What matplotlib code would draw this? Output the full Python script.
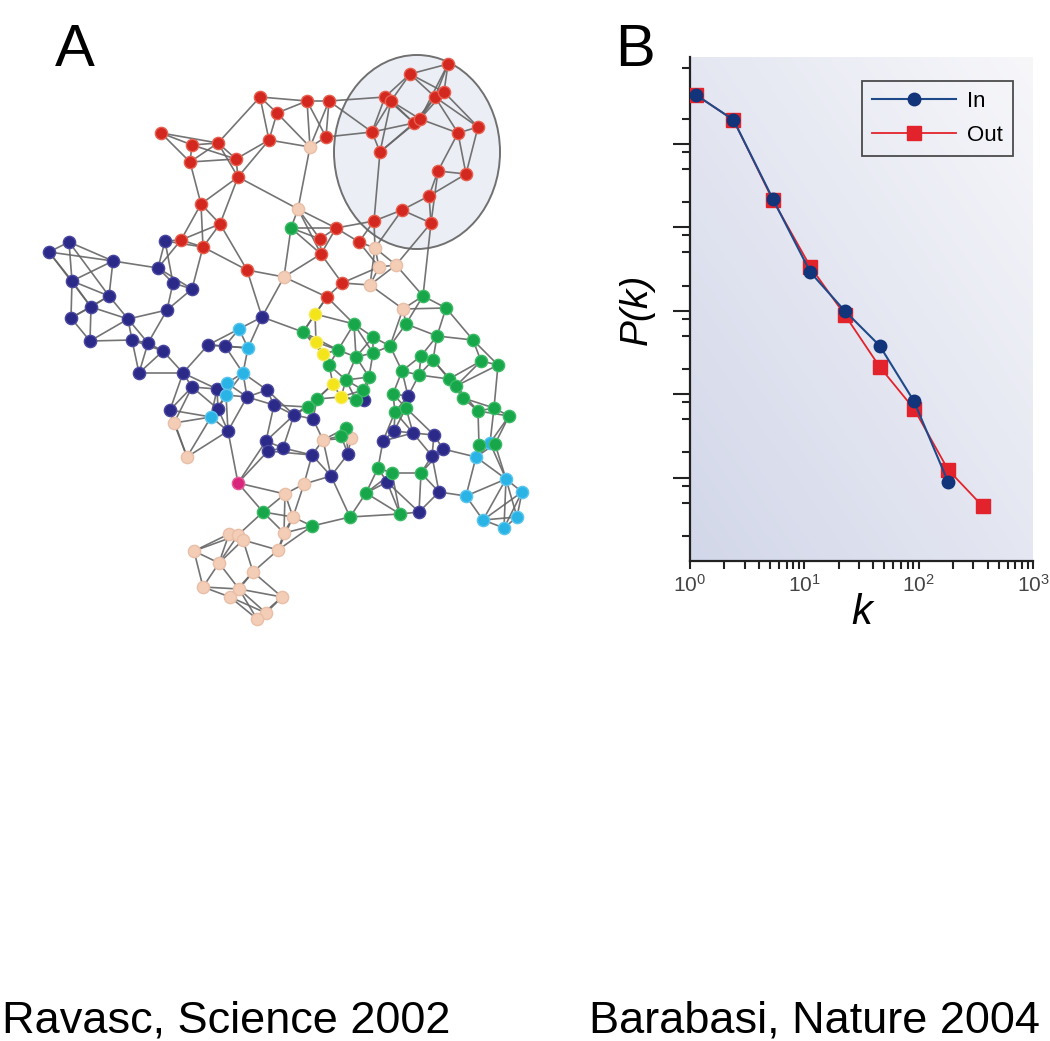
import numpy as np
import matplotlib
matplotlib.use("Agg")
import matplotlib.pyplot as plt
from matplotlib.patches import Ellipse
from matplotlib.ticker import FixedLocator, NullFormatter, LogFormatterMathtext

plt.rcParams['font.family'] = ['Liberation Sans', 'DejaVu Sans']

# ---- panel A: network nodes (picture pixel coords) ----
red_nodes = [(260, 97), (277, 113), (269, 140), (161, 133), (192, 145), (218, 143), (190, 162),
             (236, 159), (238, 177), (201, 204), (220, 224), (181, 240), (203, 247), (247, 270),
             (307, 101), (329, 101), (326, 137), (410, 74), (448, 64), (385, 97), (391, 101),
             (435, 97), (444, 92), (414, 123), (420, 119), (372, 132), (380, 152), (458, 133),
             (478, 127), (438, 171), (466, 174), (429, 196), (402, 210), (374, 221), (431, 223),
             (336, 228), (320, 239), (321, 254), (359, 242), (342, 283), (327, 297)]
peach_nodes = [(310, 147), (298, 209), (375, 248), (379, 267), (396, 265), (370, 285), (284, 277),
               (403, 309), (174, 423), (187, 457), (323, 440), (351, 438), (304, 484), (285, 494),
               (293, 517), (284, 533), (278, 550), (229, 534), (238, 535), (243, 540), (194, 551),
               (219, 563), (253, 572), (203, 587), (239, 589), (230, 597), (282, 597), (266, 613),
               (257, 619)]
blue_nodes = [(49, 252), (69, 242), (113, 261), (165, 241), (158, 268), (173, 283), (192, 289),
              (72, 281), (109, 296), (91, 307), (167, 310), (71, 318), (128, 319), (262, 317),
              (90, 341), (132, 340), (148, 343), (163, 351), (208, 345), (225, 346), (139, 373),
              (183, 373), (192, 387), (217, 389), (247, 397), (267, 390), (274, 405), (218, 409),
              (170, 410), (228, 431), (266, 441), (268, 451), (294, 415), (313, 419), (364, 400),
              (408, 396), (283, 448), (312, 455), (348, 454), (383, 441), (394, 431), (413, 433),
              (434, 435), (443, 449), (432, 456), (331, 476), (387, 482), (439, 492), (419, 512)]
cyan_nodes = [(239, 329), (248, 348), (243, 373), (227, 383), (226, 395), (211, 417), (476, 457),
              (490, 443), (506, 479), (522, 492), (466, 496), (517, 517), (483, 520), (504, 528)]
green_nodes = [(291, 228), (423, 296), (446, 308), (303, 332), (354, 324), (406, 324), (373, 337),
               (390, 346), (437, 336), (473, 340), (338, 350), (356, 357), (373, 353), (421, 356),
               (433, 360), (481, 361), (498, 365), (329, 365), (402, 371), (419, 375), (369, 377),
               (346, 380), (449, 379), (456, 386), (363, 390), (393, 394), (463, 398), (317, 399),
               (308, 407), (356, 400), (395, 412), (406, 408), (478, 411), (494, 408), (509, 416),
               (346, 428), (341, 436), (479, 445), (495, 444), (378, 468), (392, 473), (421, 473),
               (366, 493), (400, 514), (350, 517), (312, 526), (263, 512)]
yellow_nodes = [(315, 314), (316, 342), (323, 354), (333, 384), (341, 397)]
magenta_nodes = [(238, 483)]

# a few long links seen in the picture (pairs of nodes above)
long_links = [((431, 223), (423, 296)), ((310, 147), (298, 209)), ((380, 152), (374, 221)),
              ((238, 483), (228, 431)), ((238, 483), (263, 512)), ((238, 177), (298, 209)),
              ((329, 101), (385, 97)), ((247, 270), (262, 317)), ((291, 228), (284, 277)),
              ((326, 137), (372, 132)), ((174, 423), (192, 387)), ((327, 297), (315, 314))]

groups = [
    (red_nodes, '#d3281f', '#e8604f'),
    (peach_nodes, '#f3cdb6', '#e9bfa8'),
    (blue_nodes, '#2c2a88', '#4a48a0'),
    (cyan_nodes, '#2ab4e6', '#5cc6ee'),
    (green_nodes, '#18a64a', '#3cbb66'),
    (yellow_nodes, '#f4e41a', '#f7ec60'),
    (magenta_nodes, '#d8267c', '#e65a98'),
]

# ---- panel B: degree distribution ----
k_in = [1.13, 2.4, 5.3, 11.3, 22.5, 45.6, 91, 181]
p_in = [10**-0.415, 10**-0.714, 10**-1.66, 10**-2.54, 10**-3.0, 10**-3.42, 10**-4.085, 10**-5.054]
k_out = [1.13, 2.4, 5.3, 11.3, 22.5, 45.6, 91, 181, 362]
p_out = [10**-0.415, 10**-0.714, 10**-1.674, 10**-2.474, 10**-3.046, 10**-3.673, 10**-4.176,
         10**-4.907, 10**-5.342]

W, H = 1050, 1041
fig = plt.figure(figsize=(W / 100, H / 100), dpi=100)

# full-figure axes in pixel coordinates for panel A
ax_a = fig.add_axes([0, 0, 1, 1])
ax_a.set_xlim(0, W)
ax_a.set_ylim(H, 0)
ax_a.axis('off')

ax_a.add_patch(Ellipse((417, 152), 166, 194, facecolor='#eceef5', edgecolor='#707070',
                       lw=1.4, zorder=1))

all_nodes = [p for g in groups for p in g[0]]
all_xy = np.array(all_nodes, dtype=float)
# links: join each node with its nearest neighbours
n = len(all_xy)
d = np.sqrt(((all_xy[:, None, :] - all_xy[None, :, :])**2).sum(-1))
edges = set()
for i in range(n):
    order = np.argsort(d[i])[1:6]
    for j in order[:4]:
        if d[i, j] < 75:
            edges.add((min(i, j), max(i, j)))
for a, b in long_links:
    i, j = all_nodes.index(a), all_nodes.index(b)
    edges.add((min(i, j), max(i, j)))
for i, j in edges:
    ax_a.plot([all_xy[i, 0], all_xy[j, 0]], [all_xy[i, 1], all_xy[j, 1]],
              color='#656565', lw=1.2, alpha=0.9, zorder=2, solid_capstyle='round')

for pts, fc, ec in groups:
    xy = np.array(pts)
    ax_a.scatter(xy[:, 0], xy[:, 1], s=78, c=fc, edgecolors=ec, linewidths=1.0, zorder=3)

ax_a.text(75, 66, 'A', fontsize=43, ha='center', va='baseline')
ax_a.text(635, 66, 'B', fontsize=43, ha='center', va='baseline')
ax_a.text(2, 1033, 'Ravasc, Science 2002', fontsize=32.5, ha='left', va='baseline')
ax_a.text(1040, 1033, 'Barabasi, Nature 2004', fontsize=32.5, ha='right', va='baseline')

# panel B axes
ax = fig.add_axes([690 / W, 1 - 561 / H, 343 / W, 504 / H])
ax.set_xscale('log')
ax.set_yscale('log')
ax.set_xlim(1, 1000)
ax.set_ylim(1e-6, 10**0.04)

grad = np.linspace(0, 1, 200)
gx, gy = np.meshgrid(grad, grad)
ax.imshow(gx + gy, extent=[0, 1, 0, 1], transform=ax.transAxes, origin='lower',
          cmap=matplotlib.colors.LinearSegmentedColormap.from_list('bg', ['#d2d7e9', '#f7f7fa']),
          aspect='auto', zorder=0)

ax.plot(k_out, p_out, color='#e3232b', lw=1.3, marker='s', ms=10.5, mfc='#e3232b',
        mec='#e3232b', label='Out', zorder=3)
ax.plot(k_in, p_in, color='#1f4a8a', lw=1.5, marker='o', ms=9, mfc='#12347a',
        mec='#12347a', label='In', zorder=4)

for s in ['top', 'right']:
    ax.spines[s].set_visible(False)
for s in ['left', 'bottom']:
    ax.spines[s].set_linewidth(1.6)
    ax.spines[s].set_color('#222222')

major_y = [1e-5, 1e-4, 1e-3, 1e-2, 1e-1]
minor_y = [0.8, 0.2] + [m * 10.0**e for e in range(-1, -6, -1) for m in (0.8, 0.5, 0.2)]
ax.yaxis.set_major_locator(FixedLocator(major_y))
ax.yaxis.set_minor_locator(FixedLocator(minor_y))
ax.yaxis.set_major_formatter(NullFormatter())
ax.yaxis.set_minor_formatter(NullFormatter())
ax.tick_params(axis='y', which='major', direction='out', length=12, width=1.5, color='#222222')
ax.tick_params(axis='y', which='minor', direction='out', length=6, width=1.5, color='#222222')

ax.xaxis.set_major_locator(FixedLocator([1, 10, 100, 1000]))
ax.xaxis.set_minor_locator(FixedLocator([m * 10.0**e for e in range(0, 3) for m in range(2, 10)]))
ax.xaxis.set_major_formatter(LogFormatterMathtext())
ax.tick_params(axis='x', which='both', direction='out', length=6, width=1.5, color='#222222',
               labelsize=15, labelcolor='#444444', pad=3)

ax.set_xlabel('k', fontsize=30, style='italic', labelpad=-2)
ax.set_ylabel('P(k)', fontsize=28, style='italic', labelpad=10)

handles, labels = ax.get_legend_handles_labels()
leg = ax.legend(handles[::-1], labels[::-1], loc='upper right', bbox_to_anchor=(0.975, 0.975),
                fontsize=16, handlelength=3.8, frameon=True, fancybox=False,
                borderpad=0.45, labelspacing=0.6, handletextpad=0.5)
leg.get_frame().set_edgecolor('#222222')
leg.get_frame().set_facecolor('none')
leg.get_frame().set_linewidth(1.3)

fig.savefig('out.png', dpi=100)
